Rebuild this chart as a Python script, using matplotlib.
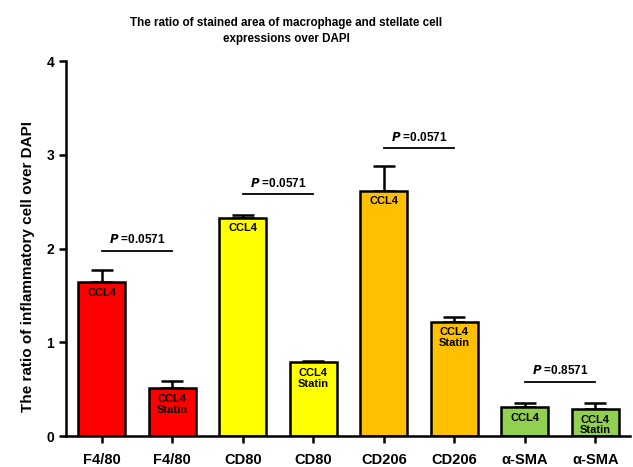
import matplotlib.pyplot as plt
import numpy as np
from matplotlib import font_manager

plt.rcParams["font.family"] = ["Liberation Sans", "DejaVu Sans"]
plt.rcParams["font.weight"] = "bold"

LABELS = ["F4/80", "F4/80", "CD80", "CD80", "CD206", "CD206", "α-SMA", "α-SMA"]
MEANS = [1.64, 0.51, 2.33, 0.79, 2.62, 1.22, 0.31, 0.29]
ERRS = [0.13, 0.08, 0.03, 0.01, 0.26, 0.05, 0.045, 0.06]
COLORS = ["#FF0000", "#FF0000", "#FFFF00", "#FFFF00",
          "#FFC000", "#FFC000", "#92D050", "#92D050"]
GROUPS = ["CCL4", "CCL4\nStatin"] * 4

P_TEXT = ["0.0571", "0.0571", "0.0571", "0.8571"]
P_LEVEL = [1.98, 2.58, 3.07, 0.58]

# narrow face for the title if it is around
names = {f.name for f in font_manager.fontManager.ttflist}
if "Liberation Sans Narrow" in names:
    title_family, title_size = ["Liberation Sans Narrow"], 9.6
else:
    title_family, title_size = ["Liberation Sans"], 8.4

fig = plt.figure(figsize=(6.33, 4.67), dpi=100)
ax = fig.add_axes([0.104, 0.066, 0.891, 0.803])

x = np.arange(len(MEANS))
ax.bar(x, MEANS, width=0.67, color=COLORS, edgecolor="black", linewidth=1.8, zorder=2)
ax.errorbar(x, MEANS, yerr=[np.zeros(len(ERRS)), ERRS], fmt="none",
            ecolor="black", elinewidth=1.8, capsize=8, capthick=1.8, zorder=1)

for xi, m, g in zip(x, MEANS, GROUPS):
    ax.text(xi, m - 0.06, g, ha="center", va="top", fontsize=8,
            fontweight="bold", zorder=3, clip_on=True, linespacing=1.1)

# significance bars between paired groups
for i, (pt, lvl) in enumerate(zip(P_TEXT, P_LEVEL)):
    x0, x1 = 2 * i, 2 * i + 1
    ax.plot([x0, x1], [lvl, lvl], color="black", lw=1.3)
    ax.text((x0 + x1) / 2, lvl + 0.12, r"$\bfit{P}$ =" + pt, ha="center",
            va="center", fontsize=8.5, fontweight="bold")

ax.set_xlim(-0.51, 7.49)
ax.set_ylim(0, 4)
ax.set_yticks([0, 1, 2, 3, 4])
ax.set_xticks(x)
ax.set_xticklabels(LABELS, fontsize=10.5, fontweight="bold")
for t in ax.get_yticklabels():
    t.set_fontsize(10)
    t.set_fontweight("bold")
ax.tick_params(axis="both", width=1.8, length=5, direction="out")
ax.tick_params(axis="x", pad=7)
for s in ["top", "right"]:
    ax.spines[s].set_visible(False)
for s in ["left", "bottom"]:
    ax.spines[s].set_linewidth(1.8)

ax.set_ylabel("The ratio of inflammatory cell over DAPI", fontsize=11,
              fontweight="bold")
ax.yaxis.set_label_coords(-0.055, 0.453)
fig.text(0.452, 0.963, "The ratio of stained area of macrophage and stellate cell\nexpressions over DAPI",
         ha="center", va="top", fontsize=title_size, fontweight="bold",
         family=title_family, linespacing=1.45)

fig.savefig("out.png", dpi=100)
